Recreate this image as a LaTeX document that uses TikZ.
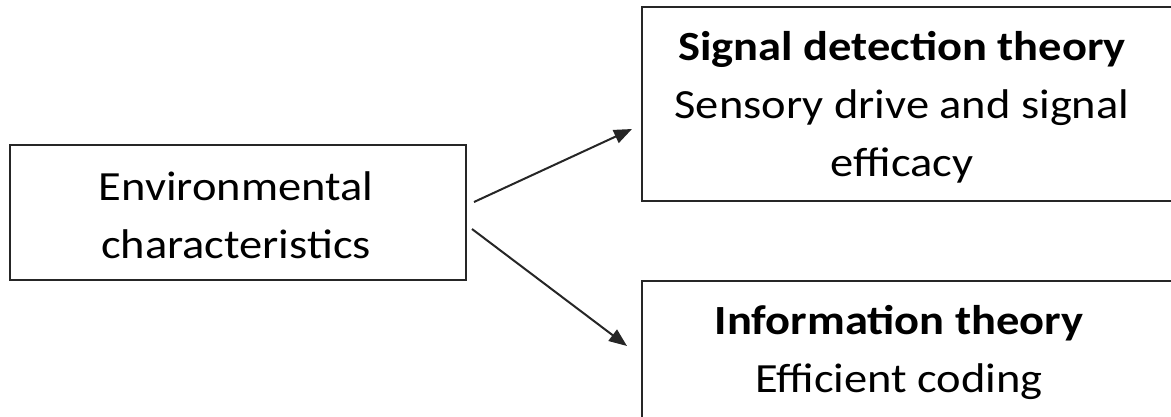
\documentclass[tikz,border=0pt]{standalone}
\usepackage{fontspec}
\setmainfont{Carlito}[FakeStretch=1.12]
\usetikzlibrary{arrows.meta}
\begin{document}
\begin{tikzpicture}[x=1pt,y=-1pt,
  box/.style={draw=black!85, line width=2pt, inner sep=0pt},
  lbl/.style={font=\fontsize{41.5}{58}\selectfont, align=center, text=black, inner sep=0pt, anchor=base},
  conn/.style={draw=black!85, line width=2pt, -{Triangle[length=18pt,width=14pt]}}]
\useasboundingbox (0,0) rectangle (1171,416);
\clip (0,0) rectangle (1171,416);
\node[box, minimum width=456pt, minimum height=135pt] (envbox) at (238,212.5) {};
\node[box, minimum width=560pt, minimum height=194pt] (sdtbox) at (922,104) {};
\node[box, minimum width=560pt, minimum height=180pt] (itbox) at (922,371) {};
\node[lbl] (envtxt) at (236,258) {Environmental\\characteristics};
\node[lbl] (sdttxt) at (902,176) {\textbf{Signal detection theory}\\Sensory drive and signal\\efficacy};
\node[lbl] (ittxt) at (899,392) {\textbf{Information theory}\\Efficient coding};
\coordinate (a1s) at (474,202);
\coordinate (a1e) at (632,129);
\coordinate (a2s) at (472,229);
\coordinate (a2e) at (627,346);
\draw[conn] (a1s) -- (a1e);
\draw[conn] (a2s) -- (a2e);
\end{tikzpicture}
\end{document}
